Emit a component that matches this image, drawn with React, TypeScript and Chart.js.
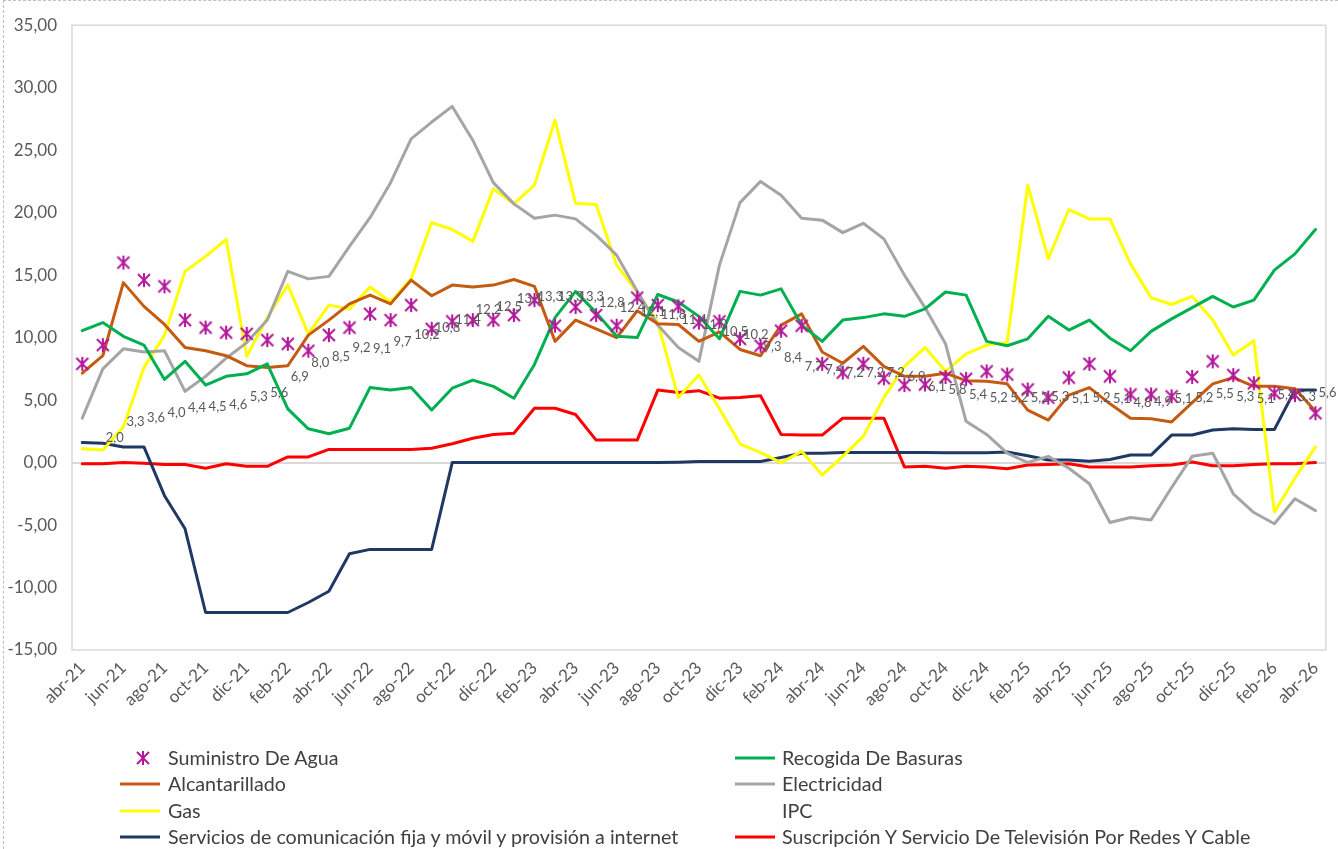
import React, { useEffect, useRef } from 'react';
import { Chart, registerables } from 'chart.js';

Chart.register(...registerables);

const months = [
  'abr-21', 'may-21', 'jun-21', 'jul-21', 'ago-21', 'sep-21', 'oct-21', 'nov-21', 'dic-21',
  'ene-22', 'feb-22', 'mar-22', 'abr-22', 'may-22', 'jun-22', 'jul-22', 'ago-22', 'sep-22', 'oct-22', 'nov-22', 'dic-22',
  'ene-23', 'feb-23', 'mar-23', 'abr-23', 'may-23', 'jun-23', 'jul-23', 'ago-23', 'sep-23', 'oct-23', 'nov-23', 'dic-23',
  'ene-24', 'feb-24', 'mar-24', 'abr-24', 'may-24', 'jun-24', 'jul-24', 'ago-24', 'sep-24', 'oct-24', 'nov-24', 'dic-24',
  'ene-25', 'feb-25', 'mar-25', 'abr-25', 'may-25', 'jun-25', 'jul-25', 'ago-25', 'sep-25', 'oct-25', 'nov-25', 'dic-25',
  'ene-26', 'feb-26', 'mar-26', 'abr-26',
];

const agua = [7.9, 9.4, 16.0, 14.6, 14.1, 11.4, 10.8, 10.4, 10.3, 9.8, 9.5, 8.95, 10.2, 10.8, 11.9, 11.4, 12.6, 10.7, 11.3, 11.4, 11.4, 11.8, 13.0, 10.95, 12.45, 11.8, 10.95, 13.2, 12.6, 12.5, 11.2, 11.3, 9.9, 9.35, 10.55, 10.95, 7.9, 7.2, 7.9, 6.75, 6.2, 6.25, 6.85, 6.7, 7.3, 7.05, 5.85, 5.2, 6.8, 7.9, 6.9, 5.45, 5.45, 5.3, 6.85, 8.1, 7.0, 6.35, 5.55, 5.4, 3.95];

const basuras = [10.55, 11.2, 10.1, 9.4, 6.65, 8.1, 6.2, 6.9, 7.1, 7.9, 4.3, 2.7, 2.3, 2.75, 6.0, 5.8, 6.0, 4.2, 5.95, 6.6, 6.1, 5.15, 7.85, 11.6, 13.7, 12.0, 10.1, 10.0, 13.45, 12.85, 11.7, 9.9, 13.7, 13.4, 13.9, 11.0, 9.7, 11.4, 11.6, 11.9, 11.7, 12.3, 13.65, 13.4, 9.7, 9.35, 9.9, 11.7, 10.6, 11.4, 9.95, 8.95, 10.5, 11.5, 12.4, 13.3, 12.45, 13.0, 15.4, 16.7, 18.65];

const alcantarillado = [7.15, 8.55, 14.4, 12.5, 11.05, 9.2, 8.95, 8.55, 7.75, 7.6, 7.75, 10.2, 11.4, 12.7, 13.4, 12.7, 14.6, 13.35, 14.2, 14.05, 14.2, 14.65, 14.1, 9.7, 11.4, 10.7, 10.0, 12.15, 11.1, 11.05, 9.7, 10.45, 9.05, 8.55, 11.0, 11.9, 8.85, 7.95, 9.3, 7.7, 6.9, 6.9, 7.15, 6.55, 6.5, 6.3, 4.2, 3.4, 5.4, 6.0, 4.7, 3.55, 3.5, 3.25, 4.8, 6.3, 6.8, 6.1, 6.1, 5.9, 4.1];

const electricidad = [3.55, 7.5, 9.1, 8.85, 8.95, 5.7, 6.9, 8.35, 9.6, 11.4, 15.3, 14.7, 14.9, 17.3, 19.6, 22.4, 25.9, 27.25, 28.5, 25.8, 22.4, 20.7, 19.55, 19.8, 19.5, 18.2, 16.6, 13.7, 11.0, 9.2, 8.1, 15.8, 20.8, 22.5, 21.4, 19.55, 19.4, 18.4, 19.15, 17.9, 15.0, 12.4, 9.5, 3.3, 2.25, 0.75, 0.0, 0.5, -0.45, -1.7, -4.8, -4.4, -4.6, -2.0, 0.5, 0.75, -2.5, -4.0, -4.9, -2.9, -3.85];

const gas = [1.1, 1.0, 2.85, 7.6, 10.2, 15.3, 16.5, 17.85, 8.5, 11.6, 14.2, 10.3, 12.6, 12.3, 14.05, 12.85, 14.7, 19.2, 18.65, 17.7, 21.9, 20.7, 22.2, 27.4, 20.75, 20.65, 15.8, 13.65, 11.2, 5.2, 7.0, 4.3, 1.5, 0.8, 0.0, 0.9, -1.0, 0.5, 2.1, 5.2, 7.7, 9.2, 7.3, 8.7, 9.4, 9.6, 22.2, 16.3, 20.25, 19.5, 19.5, 15.9, 13.2, 12.65, 13.3, 11.4, 8.6, 9.75, -3.95, -1.25, 1.25];

const ipc = [null, 2.0, 3.3, 3.6, 4.0, 4.4, 4.5, 4.6, 5.3, 5.6, 6.9, 8.0, 8.5, 9.2, 9.1, 9.7, 10.2, 10.8, 11.4, 12.2, 12.5, 13.1, 13.3, 13.3, 13.3, 12.8, 12.4, 12.1, 11.8, 11.4, 11.0, 10.5, 10.2, 9.3, 8.4, 7.7, 7.4, 7.2, 7.2, 7.2, 6.9, 6.1, 5.8, 5.4, 5.2, 5.2, 5.2, 5.3, 5.1, 5.2, 5.1, 4.8, 4.9, 5.1, 5.2, 5.5, 5.3, 5.1, 5.4, 5.3, 5.6];

const comunicacion = [1.6, 1.55, 1.25, 1.25, -2.65, -5.3, -12.0, -12.0, -12.0, -12.0, -12.0, -11.2, -10.3, -7.3, -6.95, -6.95, -6.95, -6.95, 0.0, 0.0, 0.0, 0.0, 0.0, 0.0, 0.0, 0.0, 0.0, 0.0, 0.0, 0.03, 0.08, 0.08, 0.08, 0.08, 0.4, 0.75, 0.75, 0.8, 0.8, 0.8, 0.8, 0.8, 0.78, 0.78, 0.78, 0.85, 0.55, 0.2, 0.2, 0.1, 0.25, 0.6, 0.6, 2.2, 2.2, 2.6, 2.7, 2.65, 2.65, 5.8, 5.8];

const suscripcion = [-0.1, -0.1, 0.0, -0.05, -0.15, -0.15, -0.45, -0.1, -0.3, -0.3, 0.45, 0.45, 1.05, 1.05, 1.05, 1.05, 1.05, 1.15, 1.5, 1.95, 2.25, 2.35, 4.35, 4.35, 3.85, 1.8, 1.8, 1.8, 5.8, 5.6, 5.75, 5.15, 5.2, 5.35, 2.25, 2.2, 2.2, 3.55, 3.55, 3.55, -0.35, -0.3, -0.45, -0.3, -0.35, -0.5, -0.2, -0.15, -0.1, -0.35, -0.35, -0.35, -0.25, -0.2, 0.05, -0.25, -0.25, -0.15, -0.1, -0.1, 0.0];

const seriesNames = [
  'Suministro De Agua',
  'Recogida De Basuras',
  'Alcantarillado',
  'Electricidad',
  'Gas',
  'IPC',
  'Servicios de comunicación fija y móvil y provisión a internet',
  'Suscripción Y Servicio De Televisión Por Redes Y Cable',
];

const seriesColors = ['#B3179A', '#00B050', '#C55A11', '#A5A5A5', '#FFFF00', 'transparent', '#203864', '#FF0000'];

const yTicksMin = -15;
const yTicksMax = 35;
const yTicksStep = 5;

const FONT = 'Lato, "Open Sans", sans-serif';

const fmt1 = (v: number) => v.toFixed(1).replace('.', ',');
const fmt2 = (v: number) => v.toFixed(2).replace('.', ',');

function makeStar(color: string): HTMLCanvasElement {
  const c = document.createElement('canvas');
  c.width = 16;
  c.height = 16;
  const ctx = c.getContext('2d')!;
  ctx.strokeStyle = color;
  ctx.lineWidth = 2;
  ctx.beginPath();
  ctx.moveTo(2, 2);
  ctx.lineTo(14, 14);
  ctx.moveTo(14, 2);
  ctx.lineTo(2, 14);
  ctx.moveTo(8, 1);
  ctx.lineTo(8, 15);
  ctx.stroke();
  return c;
}

const plotBorder = {
  id: 'plotBorder',
  beforeDatasetsDraw(chart: any) {
    const { ctx, chartArea } = chart;
    ctx.save();
    ctx.strokeStyle = '#D9D9D9';
    ctx.lineWidth = 1.5;
    ctx.strokeRect(chartArea.left, chartArea.top, chartArea.right - chartArea.left, chartArea.bottom - chartArea.top);
    ctx.restore();
  },
};

const ipcLabels = {
  id: 'ipcLabels',
  afterDatasetsDraw(chart: any) {
    const idx = chart.data.datasets.findIndex((d: any) => d.label === 'IPC');
    if (idx < 0) return;
    const meta = chart.getDatasetMeta(idx);
    const ctx = chart.ctx;
    ctx.save();
    ctx.font = `13px ${FONT}`;
    ctx.fillStyle = '#595959';
    ctx.textAlign = 'left';
    ctx.textBaseline = 'middle';
    meta.data.forEach((pt: any, i: number) => {
      const v = ipc[i];
      if (v == null || !isFinite(pt.x) || !isFinite(pt.y)) return;
      ctx.fillText(fmt1(v), pt.x + 3, pt.y);
    });
    ctx.restore();
  },
};

function LegendSymbol({ i }: { i: number }) {
  if (i === 0) {
    return (
      <svg width="40" height="16" style={{ display: 'block' }}>
        <g stroke={seriesColors[0]} strokeWidth="2">
          <line x1="17" y1="2" x2="29" y2="14" />
          <line x1="29" y1="2" x2="17" y2="14" />
          <line x1="23" y1="1" x2="23" y2="15" />
        </g>
      </svg>
    );
  }
  if (i === 5) return <svg width="40" height="16" style={{ display: 'block' }} />;
  return (
    <svg width="40" height="16" style={{ display: 'block' }}>
      <line x1="0" y1="8" x2="40" y2="8" stroke={seriesColors[i]} strokeWidth="3" />
    </svg>
  );
}

export default function App() {
  const ref = useRef<HTMLCanvasElement | null>(null);

  useEffect(() => {
    if (!ref.current) return;
    const star = makeStar(seriesColors[0]);
    const line = (label: string, data: any[], color: string) => ({
      label,
      data,
      borderColor: color,
      backgroundColor: color,
      borderWidth: 3,
      pointRadius: 0,
      tension: 0,
      borderJoinStyle: 'round' as const,
      borderCapStyle: 'round' as const,
    });
    const chart = new Chart(ref.current, {
      type: 'line',
      data: {
        labels: months,
        datasets: [
          {
            label: seriesNames[0],
            data: agua,
            showLine: false,
            pointStyle: star as any,
            pointRadius: 8,
            borderColor: seriesColors[0],
            backgroundColor: seriesColors[0],
          },
          line(seriesNames[1], basuras, seriesColors[1]),
          line(seriesNames[2], alcantarillado, seriesColors[2]),
          line(seriesNames[3], electricidad, seriesColors[3]),
          line(seriesNames[4], gas, seriesColors[4]),
          {
            label: seriesNames[5],
            data: ipc,
            showLine: false,
            pointRadius: 0,
            borderColor: 'transparent',
            backgroundColor: 'transparent',
          },
          line(seriesNames[6], comunicacion, seriesColors[6]),
          line(seriesNames[7], suscripcion, seriesColors[7]),
        ] as any,
      },
      options: {
        responsive: false,
        maintainAspectRatio: false,
        animation: false,
        events: [],
        layout: { padding: { top: 22, right: 10, bottom: 129, left: 0 } },
        plugins: {
          legend: { display: false },
          tooltip: { enabled: false },
          title: { display: false },
        },
        scales: {
          x: {
            type: 'category',
            offset: true,
            grid: { display: false, drawTicks: false },
            border: { display: false },
            ticks: {
              autoSkip: false,
              maxRotation: 45,
              minRotation: 45,
              padding: 8,
              color: '#595959',
              font: { family: FONT, size: 17 },
              callback: (_v: any, i: number) => (i % 2 === 0 ? months[i] : ''),
            },
            afterFit: (s: any) => {
              s.height = 70;
            },
          },
          y: {
            min: yTicksMin,
            max: yTicksMax,
            ticks: {
              stepSize: yTicksStep,
              padding: 15,
              color: '#595959',
              font: { family: FONT, size: 17 },
              callback: (v: any) => fmt2(Number(v)),
            },
            grid: {
              drawTicks: false,
              lineWidth: 2,
              color: (c: any) => (c.tick && c.tick.value === 0 ? '#D9D9D9' : 'rgba(0,0,0,0)'),
            },
            border: { display: false },
            afterFit: (s: any) => {
              s.width = 72;
            },
          },
        },
      } as any,
      plugins: [plotBorder, ipcLabels],
    });
    return () => chart.destroy();
  }, []);

  const rowsY = [758, 784, 811, 837];
  const leftIdx = [0, 2, 4, 6];
  const rightIdx = [1, 3, 5, 7];
  const legendText = { fontSize: 19.7, lineHeight: '24px', color: '#404040', whiteSpace: 'nowrap' as const };

  return (
    <div style={{ position: 'absolute', left: 0, top: 0, width: 1338, height: 849, background: '#fff', overflow: 'hidden', fontFamily: FONT }}>
      <canvas ref={ref} width={1338} height={849} style={{ position: 'absolute', left: 0, top: 0, width: 1338, height: 849 }} />
      <div
        style={{
          position: 'absolute', left: 3, top: 0, width: 1335, height: 849, boxSizing: 'border-box',
          borderTop: '1px dashed #BFBFBF', borderLeft: '1px dashed #BFBFBF', pointerEvents: 'none',
        }}
      />
      {rowsY.map((y, r) => (
        <React.Fragment key={r}>
          <div style={{ position: 'absolute', left: 120, top: y - 8 }}>
            <LegendSymbol i={leftIdx[r]} />
          </div>
          <div style={{ position: 'absolute', left: 168, top: y - 12, ...legendText }}>
            {seriesNames[leftIdx[r]]}
          </div>
          <div style={{ position: 'absolute', left: 735, top: y - 8 }}>
            <LegendSymbol i={rightIdx[r]} />
          </div>
          <div style={{ position: 'absolute', left: 782, top: y - 12, ...legendText }}>
            {seriesNames[rightIdx[r]]}
          </div>
        </React.Fragment>
      ))}
    </div>
  );
}
